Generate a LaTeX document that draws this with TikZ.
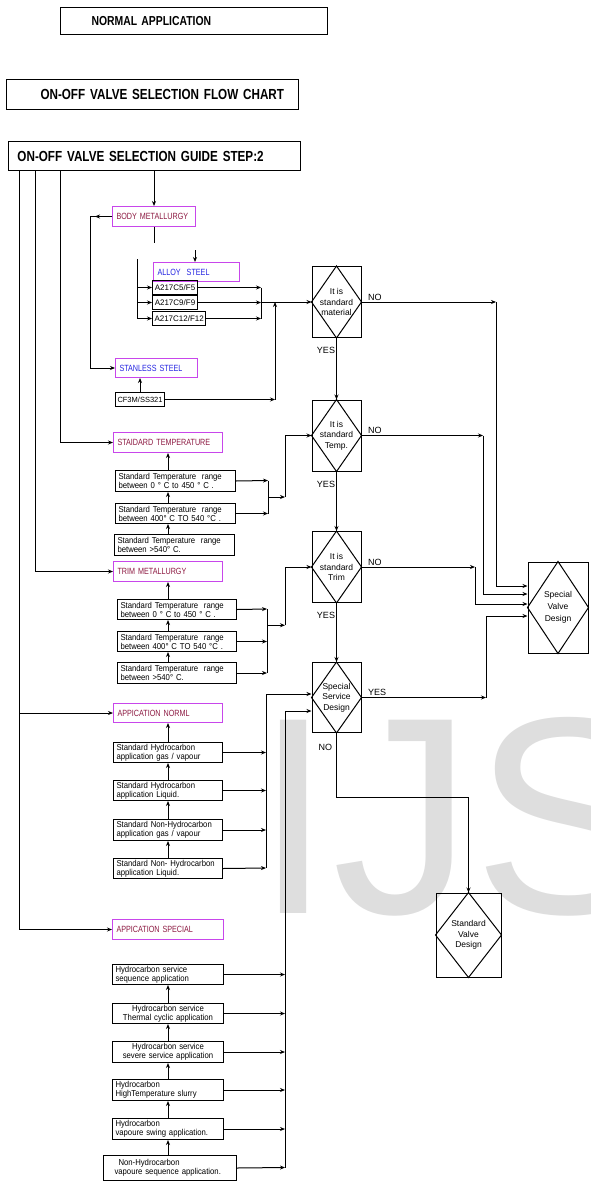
\documentclass[tikz,border=0pt]{standalone}
\usepackage{fontspec}
\setmainfont{Liberation Sans}
\newfontfamily\condfont[FakeStretch=0.8]{Liberation Sans}
\newfontfamily\boxfont[FakeStretch=0.9]{Liberation Sans}
\usepackage{xcolor}
\usetikzlibrary{arrows.meta,positioning,calc}

\definecolor{headviolet}{RGB}{200,70,235}
\definecolor{headred}{RGB}{140,25,65}
\definecolor{headblue}{RGB}{35,35,225}

\begin{document}
\begin{tikzpicture}[
    x=1pt, y=-1pt,
    line width=1pt,
    titlebox/.style={draw, anchor=north west, inner xsep=0pt, inner ysep=0pt, align=left, font=\condfont\bfseries\fontsize{14.6}{17}\selectfont},
    head/.style={draw=headviolet, text=headred, anchor=north west, inner xsep=4pt, inner ysep=0pt, align=left, minimum height=20, font=\condfont\fontsize{9}{10}\selectfont},
    grade/.style={draw, anchor=north west, inner xsep=2pt, inner ysep=0pt, minimum height=14, font=\fontsize{8}{9}\selectfont},
    sbox/.style={draw, anchor=north west, inner xsep=3pt, inner ysep=0pt, align=left, font=\boxfont\fontsize{8.6}{9}\selectfont},
    decision/.style={draw, align=center, inner sep=0pt, font=\fontsize{8.5}{10.5}\selectfont},
    lbl/.style={inner sep=1pt, font=\fontsize{9}{10}\selectfont},
    arrow/.style={->, >={Stealth[length=5pt,width=4pt]}}
]
\useasboundingbox (0,0) rectangle (590,1182);

% Watermark
\node[anchor=base west, inner sep=0pt, text=black!13, font=\fontsize{281}{281}\selectfont] (wm) at (254,913) {IJS};

% Titles
\node[titlebox, text width=267, minimum height=27, font=\condfont\bfseries\fontsize{13}{15}\selectfont] (normal) at (60,7) {\hspace*{31pt}NORMAL APPLICATION};
\node[titlebox, text width=292, minimum height=30] (flowchart) at (6,79) {\hspace*{34pt}ON-OFF VALVE SELECTION FLOW CHART};
\node[titlebox, text width=292, minimum height=29] (guide) at (8,141) {\hspace*{9pt}ON-OFF VALVE SELECTION GUIDE STEP:2};

% Body metallurgy
\node[head, text width=75] (bodymet) at (112,206) {BODY METALLURGY};
\node[head, text=headblue, text width=78, minimum height=19] (alloy) at (153,262) {ALLOY\ \ STEEL};
\node[grade, minimum width=45] (c5) at (152,280) {A217C5/F5};
\node[grade, minimum width=45] (c9) at (152,295) {A217C9/F9};
\node[grade, minimum width=52] (c12) at (152,311) {A217C12/F12};
\node[head, text=headblue, text width=74, minimum height=19] (stainless) at (115,358) {STANLESS STEEL};
\node[grade, minimum width=48, font=\fontsize{7.5}{9}\selectfont] (cf3m) at (115,392) {CF3M/SS321};

% Temperature
\node[head, text width=101] (tmphead) at (113,432) {STAIDARD TEMPERATURE};
\node[sbox, text width=114, minimum height=21] (tmpA) at (115,470) {Standard Temperature\ \ range\\between 0 ° C to 450 ° C .};
\node[sbox, text width=114, minimum height=20] (tmpB) at (115,503) {Standard Temperature\ \ range\\between 400° C TO 540 °C .};
\node[sbox, text width=114, minimum height=21] (tmpC) at (114,534) {Standard Temperature\ \ range\\between >540° C.};

% Trim metallurgy
\node[head, text width=101] (trimhead) at (113,561) {TRIM METALLURGY};
\node[sbox, text width=113, minimum height=20] (trimA) at (117,599) {Standard Temperature\ \ range\\between 0 ° C to 450 ° C .};
\node[sbox, text width=113, minimum height=20] (trimB) at (117,631) {Standard Temperature\ \ range\\between 400° C TO 540 °C .};
\node[sbox, text width=113, minimum height=21] (trimC) at (117,662) {Standard Temperature\ \ range\\between >540° C.};

% Application normal
\node[head, text width=101, minimum height=19] (normhead) at (113,703) {APPICATION NORML};
\node[sbox, text width=103, minimum height=20] (normA) at (113,742) {Standard Hydrocarbon\\application gas / vapour};
\node[sbox, text width=103, minimum height=20] (normB) at (113,780) {Standard Hydrocarbon\\application Liquid.};
\node[sbox, text width=103, minimum height=21] (normC) at (113,819) {Standard Non-Hydrocarbon\\application gas / vapour};
\node[sbox, text width=103, minimum height=20] (normD) at (113,858) {Standard Non- Hydrocarbon\\application Liquid.};

% Application special
\node[head, text width=103] (spechead) at (112,919) {APPICATION SPECIAL};
\node[sbox, text width=105, minimum height=20] (specA) at (112,964) {Hydrocarbon service\\sequence application};
\node[sbox, text width=105, minimum height=20, align=center] (specB) at (112,1003) {Hydrocarbon service\\Thermal cyclic application};
\node[sbox, text width=105, minimum height=21, align=center] (specC) at (112,1041) {Hydrocarbon service\\severe service application};
\node[sbox, text width=105, minimum height=21] (specD) at (112,1079) {Hydrocarbon\\HighTemperature slurry};
\node[sbox, text width=105, minimum height=21] (specE) at (112,1118) {Hydrocarbon\\vapoure swing application.};
\node[sbox, text width=127, minimum height=25] (specF) at (103,1155) {\hspace*{12pt}Non-Hydrocarbon\\\hspace*{8pt}vapoure sequence application.};

% Decisions
\node[decision, minimum width=49, minimum height=71] (d1) at (336.5,302) {It is\\standard\\material};
\node[decision, minimum width=49, minimum height=71] (d2) at (336.5,435.5) {It is\\standard\\Temp.};
\node[decision, minimum width=49, minimum height=71] (d3) at (336.5,567) {It is\\standard\\Trim};
\node[decision, minimum width=49, minimum height=70] (d4) at (336.5,697.5) {Special\\Service\\Design};
\node[decision, minimum width=60, minimum height=91, font=\fontsize{8.5}{12}\selectfont] (sv) at (558,607.5) {Special\\Valve\\Design};
\node[decision, minimum width=65, minimum height=84] (stdv) at (468.5,935) {Standard\\Valve\\Design};

\draw (d1.north) -- (d1.east) -- (d1.south) -- (d1.west) -- cycle;
\draw (d2.north) -- (d2.east) -- (d2.south) -- (d2.west) -- cycle;
\draw (d3.north) -- (d3.east) -- (d3.south) -- (d3.west) -- cycle;
\draw (d4.north) -- (d4.east) -- (d4.south) -- (d4.west) -- cycle;
\draw (sv.north) -- (sv.east) -- (sv.south) -- (sv.west) -- cycle;
\draw (stdv.north) -- (stdv.east) -- (stdv.south) -- (stdv.west) -- cycle;

% Guide buses
\coordinate (bus1) at ([xshift=11pt]guide.south west);
\coordinate (bus2) at ([xshift=27pt]guide.south west);
\coordinate (bus3) at ([xshift=52pt]guide.south west);
\draw[arrow] (bus3) |- (tmphead.west);
\draw[arrow] (bus2) |- (trimhead.west);
\draw[arrow] (bus1) |- (normhead.west);
\draw[arrow] (bus1) |- (spechead.west);

% Body metallurgy arrows
\draw[arrow] (bodymet.north |- guide.south) -- (bodymet.north);
\coordinate (bmend) at ([yshift=-16pt]bodymet.south);
\draw (bodymet.south) -- (bmend);
\draw[arrow] (bodymet.west) -- ++(-17,0);
\draw[arrow] (bodymet.west) -- ++(-22,0) |- (stainless.west);

\coordinate (alin) at (195,250);
\draw[arrow] (alin) -- (alin |- alloy.north);
\coordinate (abus) at (137,259);
\draw (abus) -- (abus |- c12.west);
\draw[arrow] (abus |- c5.west) -- (c5.west);
\draw[arrow] (abus |- c9.west) -- (c9.west);
\draw[arrow] (abus |- c12.west) -- (c12.west);

\coordinate (gbus) at (261,287);
\draw[arrow] (c5.east) -- (gbus |- c5.east);
\draw[arrow] (c9.east) -- (gbus |- c9.east);
\draw[arrow] (c12.east) -- (gbus |- c12.east);
\draw (gbus |- c5.east) -- (gbus |- c12.east);
\draw[arrow] (gbus |- d1.west) -- (d1.west);

\draw[arrow] (cf3m.north) -- (cf3m.north |- stainless.south);
\coordinate (cfjoin) at (275,302);
\draw[arrow] (cf3m.east) -- (cf3m.east -| cfjoin);
\draw[arrow] (cf3m.east -| cfjoin) -- (cfjoin);

% Temperature arrows
\draw[arrow] (tmphead.south |- tmpA.north) -- (tmphead.south);
\draw[arrow] (tmphead.south |- tmpB.north) -- (tmphead.south |- tmpA.south);
\draw[arrow] (tmphead.south |- tmpC.north) -- (tmphead.south |- tmpB.south);
\coordinate (tbus) at (268,480.5);
\draw[arrow] (tmpA.east) -- (tbus);
\draw[arrow] (tmpB.east) -- (tbus |- tmpB.east);
\draw (tbus) -- (tbus |- tmpB.east);
\coordinate (tjoin) at ($(tbus)!0.5!(tbus |- tmpB.east)$);
\draw[arrow] (tjoin) -- ++(17,0);
\draw[arrow] (tjoin) ++(17,0) |- (d2.west);

% Trim arrows
\draw[arrow] (trimhead.south |- trimA.north) -- (trimhead.south);
\draw[arrow] (trimhead.south |- trimB.north) -- (trimhead.south |- trimA.south);
\draw[arrow] (trimhead.south |- trimC.north) -- (trimhead.south |- trimB.south);
\coordinate (rbus) at (267,609);
\draw[arrow] (trimA.east) -- (rbus);
\draw[arrow] (trimB.east) -- (rbus |- trimB.east);
\draw[arrow] (trimC.east) -- (rbus |- trimC.east);
\draw (rbus) -- (rbus |- trimC.east);
\coordinate (rjoin) at ($(rbus)!0.5!(rbus |- trimB.east)$);
\draw[arrow] (rjoin) -- ++(18,0);
\draw[arrow] (rjoin) ++(18,0) |- (d3.west);

% Application normal arrows
\draw[arrow] (normhead.south |- normA.north) -- (normhead.south);
\draw[arrow] (normhead.south |- normB.north) -- (normhead.south |- normA.south);
\draw[arrow] (normhead.south |- normC.north) -- (normhead.south |- normB.south);
\draw[arrow] (normhead.south |- normD.north) -- (normhead.south |- normC.south);
\coordinate (nbus) at (266,868);
\draw[arrow] (normA.east) -- (nbus |- normA.east);
\draw[arrow] (normB.east) -- (nbus |- normB.east);
\draw[arrow] (normC.east) -- (nbus |- normC.east);
\draw[arrow] (normD.east) -- (nbus);
\draw[arrow] (nbus) |- ([yshift=3.5pt]d4.west);

% Application special arrows
\draw[arrow] (specB.north) -- (specA.south);
\draw[arrow] (specC.north) -- (specB.south);
\draw[arrow] (specD.north) -- (specC.south);
\draw[arrow] (specE.north) -- (specD.south);
\draw[arrow] (specE.south |- specF.north) -- (specE.south);
\coordinate (sbus) at (285,1167.5);
\draw[arrow] (specA.east) -- (sbus |- specA.east);
\draw[arrow] (specB.east) -- (sbus |- specB.east);
\draw[arrow] (specC.east) -- (sbus |- specC.east);
\draw[arrow] (specD.east) -- (sbus |- specD.east);
\draw[arrow] (specE.east) -- (sbus |- specE.east);
\draw[arrow] (specF.east) -- (sbus);
\draw[arrow] (sbus) |- ([yshift=-13.5pt]d4.west);

% Decision flow
\draw[arrow] (d1.south) -- node[lbl, pos=0.2, anchor=east] {YES} (d2.north);
\draw[arrow] (d2.south) -- node[lbl, pos=0.21, anchor=east] {YES} (d3.north);
\draw[arrow] (d3.south) -- node[lbl, pos=0.21, anchor=east] {YES} (d4.north);

\coordinate (no1) at (496,302);
\coordinate (no2) at (483,435.5);
\coordinate (no3) at (475,567);
\coordinate (yes4) at (486,697.5);
\draw[arrow] (d1.east) -- node[lbl, at start, anchor=south west, xshift=5pt] {NO} (no1);
\draw[arrow] (no1) |- ([yshift=21.5pt]sv.west);
\draw[arrow] (d2.east) -- node[lbl, at start, anchor=south west, xshift=5pt] {NO} (no2);
\draw[arrow] (no2) |- ([yshift=13.5pt]sv.west);
\draw[arrow] (d3.east) -- node[lbl, at start, anchor=south west, xshift=5pt] {NO} (no3);
\draw[arrow] (no3) |- ([yshift=3.5pt]sv.west);
\draw[arrow] (d4.east) -- node[lbl, at start, anchor=south west, xshift=5pt] {YES} (yes4);
\draw[arrow] (yes4) |- ([yshift=-8.5pt]sv.west);

\draw[arrow] (d4.south) -- node[lbl, pos=0.22, anchor=east, xshift=-3pt] {NO} ++(0,64) -| (stdv.north);

\end{tikzpicture}
\end{document}
